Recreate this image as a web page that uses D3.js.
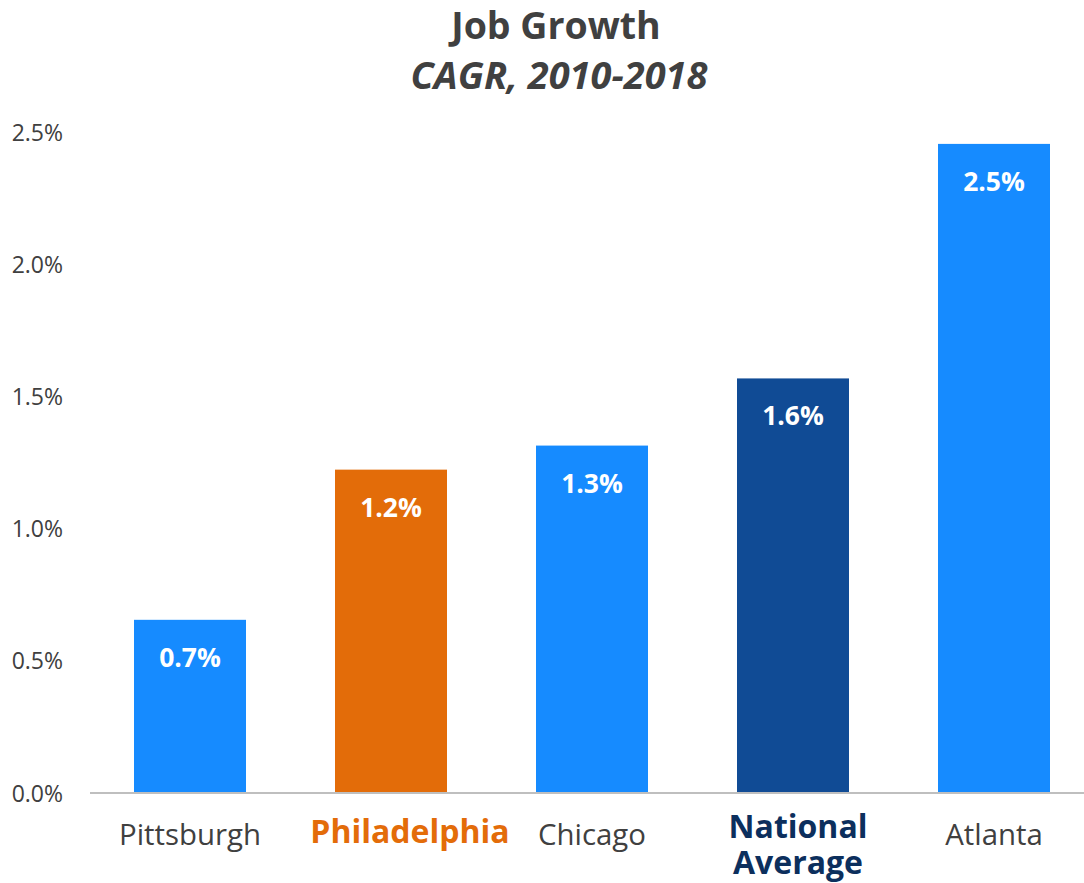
<!DOCTYPE html>
<html><head><meta charset="utf-8">
<script src="https://cdn.jsdelivr.net/npm/d3@7"></script>
<style>body{margin:0;background:#fff}svg{display:block;font-family:"Open Sans",sans-serif}</style>
</head><body><svg id="c" width="1084" height="883"></svg>
<script>
const categories = ["Pittsburgh","Philadelphia","Chicago","National Average","Atlanta"];
const values = [0.655, 1.223, 1.314, 1.568, 2.455];
const labels = ["0.7%","1.2%","1.3%","1.6%","2.5%"];
const barColors = ["#168bff","#e36c09","#168bff","#104b95","#168bff"];
const labelColors = ["#404040","#e36c09","#404040","#0c2f5d","#404040"];
const labelBold = [false,true,false,true,false];
const yTicks = [0,0.5,1.0,1.5,2.0,2.5];

// layout tweaks for category labels (horizontal nudges seen in the original)
const labelNudge = {"Philadelphia":19, "National Average":5};

const svg = d3.select("#c");
const y = d3.scaleLinear().domain([0,2.5]).range([793,132]);
const x = d3.scaleBand().domain(categories).range([134,1050]).paddingInner(0.4428).paddingOuter(0);

svg.append("text").attr("x",556).attr("y",39).attr("text-anchor","middle")
  .attr("font-size",37.5).attr("font-weight",700).attr("fill","#404040").text("Job Growth");
svg.append("text").attr("x",559).attr("y",89).attr("text-anchor","middle")
  .attr("font-size",38).attr("font-weight",700).attr("font-style","italic").attr("fill","#404040").text("CAGR, 2010-2018");

const ya = svg.append("g").attr("transform","translate(63,0)")
  .call(d3.axisLeft(y).tickValues(yTicks).tickFormat(d=>d.toFixed(1)+"%").tickSize(0).tickPadding(0));
ya.select(".domain").remove();
ya.selectAll("text").attr("font-size",23).attr("fill","#404040").attr("font-family","Open Sans").attr("dy","0.35em");

svg.selectAll("rect.bar").data(values).join("rect").attr("class","bar")
  .attr("x",(d,i)=>x(categories[i])).attr("width",x.bandwidth())
  .attr("y",d=>y(d)).attr("height",d=>y(0)-y(d)).attr("fill",(d,i)=>barColors[i]);

svg.append("line").attr("x1",90).attr("x2",1084).attr("y1",y(0)).attr("y2",y(0))
  .attr("stroke","#bfbfbf").attr("stroke-width",2);

svg.selectAll("text.val").data(values).join("text").attr("class","val")
  .attr("x",(d,i)=>x(categories[i])+x.bandwidth()/2).attr("y",d=>y(d)+47)
  .attr("text-anchor","middle").attr("font-size",26.5).attr("font-weight",700).attr("fill","#fff")
  .text((d,i)=>labels[i]);

categories.forEach((c,i)=>{
  const cx = x(c)+x.bandwidth()/2 + (labelNudge[c]||0);
  const t = svg.append("text").attr("x",cx).attr("text-anchor","middle")
    .attr("font-size",labelBold[i]?32:29.4).attr("font-weight",labelBold[i]?700:400).attr("fill",labelColors[i]);
  const words = c==="National Average" ? ["National","Average"] : [c];
  if(words.length===1){ t.attr("y", labelBold[i]?843:845).text(c); }
  else { words.forEach((w,k)=>t.append("tspan").attr("x",cx).attr("y",838+k*36).text(w)); }
});
</script></body></html>
